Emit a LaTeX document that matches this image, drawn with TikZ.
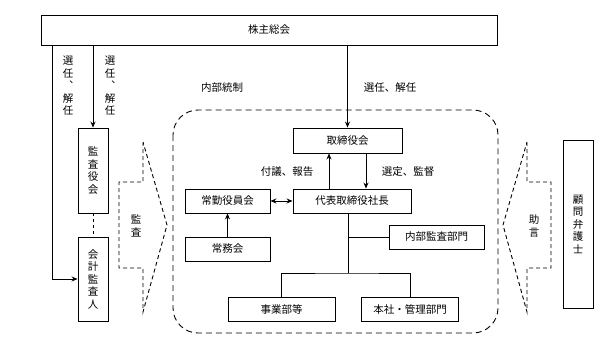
\documentclass[tikz,border=0pt]{standalone}
\usepackage{fontspec}
\newfontfamily\jpfont{Noto Sans CJK JP}
\usetikzlibrary{positioning, arrows.meta}

\begin{document}
\begin{tikzpicture}[
            x=1pt, y=-1pt,
            font=\jpfont\fontsize{10.5}{12.5}\selectfont,
            box/.style={draw, line width=0.9pt, inner sep=0pt, align=center},
            arrow/.style={-{Stealth[length=6pt, width=5pt]}, line width=0.8pt},
            dbarrow/.style={{Stealth[length=6pt, width=5pt]}-{Stealth[length=6pt, width=5pt]}, line width=0.8pt},
            link/.style={line width=0.8pt},
            callout/.style={line width=0.9pt, dash pattern=on 4pt off 3pt},
            vtext/.style={align=center, inner sep=0pt}
        ]
            \useasboundingbox (0,0) rectangle (599,345);

            \node [box, minimum width=456pt, minimum height=30pt] (gm) at (269,30) {株主総会};
            \node [box, minimum width=30pt, minimum height=85pt] (kansayaku) at (93,170.5) {監\\査\\役\\会};
            \node [box, minimum width=30pt, minimum height=84pt] (kaikei) at (93,279) {会\\計\\監\\査\\人};
            \node [box, minimum width=109pt, minimum height=25pt] (board) at (347.5,140.5) {取締役会};
            \node [box, minimum width=118pt, minimum height=24pt] (ceo) at (352,201) {代表取締役社長};
            \node [box, minimum width=85pt, minimum height=24pt] (joukin) at (227.5,201) {常勤役員会};
            \node [box, minimum width=85pt, minimum height=24pt] (joumu) at (227.5,249) {常務会};
            \node [box, minimum width=95pt, minimum height=24pt] (audit) at (436.5,237) {内部監査部門};
            \node [box, minimum width=107pt, minimum height=24pt] (jigyo) at (281.5,309) {事業部等};
            \node [box, minimum width=97pt, minimum height=24pt] (honsha) at (410,309) {本社・管理部門};
            \node [box, minimum width=30pt, minimum height=168pt] (lawyer) at (578,224) {顧\\問\\弁\\護\\士};

            \draw [arrow] ([xshift=-25pt]kaikei.west |- gm.south) |- (kaikei.west);
            \draw [arrow] (gm.south -| kansayaku) -- (kansayaku.north);
            \draw [link, dashed] (kansayaku.south) -- (kaikei.north);
            \draw [arrow] (gm.south -| board) -- (board.north);
            \draw [arrow] ([xshift=-18.5pt]board.south |- ceo.north) -- ([xshift=-18.5pt]board.south);
            \draw [arrow] ([xshift=18.5pt]board.south) -- ([xshift=18.5pt]board.south |- ceo.north);
            \draw [dbarrow] (joukin.east) -- (ceo.west);
            \draw [arrow] (joumu.north) -- (joukin.south);

            \coordinate (split) at (348,273);
            \draw [link] (ceo.south -| split) -- (split);
            \draw [link] (split |- audit) -- (audit.west);
            \draw [link] (jigyo.north) |- (split) -| (honsha.north);

            \node [vtext] (elect1) at (68,86) {選\\任\\︑\\解\\任};
            \node [vtext] (elect2) at (110,86) {選\\任\\︑\\解\\任};
            \node (naibu) at (222,88) {内部統制};
            \node (elect3) at (390,88) {選任、解任};
            \node (fugi) at (287,172) {付議、報告};
            \node (sentei) at (408,172) {選定、監督};

            \draw [line width=0.9pt, dash pattern=on 6pt off 4pt, rounded corners=25pt] (173,110) rectangle (498,333);

            \draw [callout] (143,142) -- (143,182) -- (119,182) -- (119,268) -- (143,268) -- (143,312) -- (167,225) -- cycle;
            \node [vtext] (kansa) at (136,226) {監\\査};
            \draw [callout] (527,142) -- (527,182) -- (551,182) -- (551,268) -- (527,268) -- (527,312) -- (503,225) -- cycle;
            \node [vtext] (jogen) at (534,226) {助\\言};

        \end{tikzpicture}
\end{document}
